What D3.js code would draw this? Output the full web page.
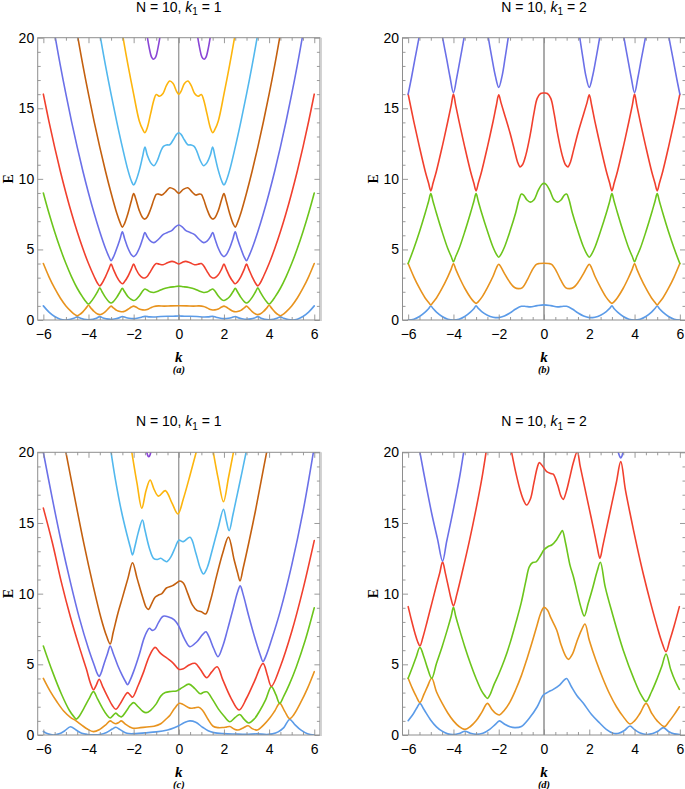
<!DOCTYPE html>
<html><head><meta charset="utf-8">
<script src="https://d3js.org/d3.v7.min.js"></script>
<style>body{margin:0;background:#fff}svg{display:block}</style>
</head><body>
<svg id="chart" width="685" height="789"></svg>
<script>
// ---------- tick labels / categories ----------
const xTickValues = [-6,-4,-2,0,2,4,6];
const yTickValues = [0,5,10,15,20];
const N_value = 10;
const k1Values = [1,2,1,2];
const panelTags = ["(a)","(b)","(c)","(d)"];
const bandColors = ["#5b9be8","#e8931e","#6cc51c","#f1402e","#6b70e8","#c4600f","#52b8ee","#fdb50d","#8a46d6"];

// ---------- panel (a): N=10, k1=1 ----------
const a1 = [[-6,1.0],[-5.75,0.56],[-5.5,0.25],[-5.25,0.06],[-5.05,0.0],[-4.85,0.03],[-4.65,0.12],[-4.5,0.22],[-4.35,0.12],[-4.2,0.05],[-4.0,0.02],[-3.8,0.05],[-3.65,0.12],[-3.5,0.24],[-3.35,0.14],[-3.2,0.08],[-3.0,0.05],[-2.8,0.09],[-2.65,0.15],[-2.5,0.25],[-2.35,0.17],[-2.2,0.12],[-2.0,0.1],[-1.8,0.14],[-1.65,0.2],[-1.5,0.26],[-1.3,0.22],[-1.1,0.21],[-0.8,0.25],[-0.5,0.27],[-0.25,0.27],[0,0.28],[0.25,0.27],[0.5,0.27],[0.8,0.25],[1.1,0.21],[1.3,0.22],[1.5,0.26],[1.65,0.2],[1.8,0.14],[2.0,0.1],[2.2,0.12],[2.35,0.17],[2.5,0.25],[2.65,0.15],[2.8,0.09],[3.0,0.05],[3.2,0.08],[3.35,0.14],[3.5,0.24],[3.65,0.12],[3.8,0.05],[4.0,0.02],[4.2,0.05],[4.35,0.12],[4.5,0.22],[4.65,0.12],[4.85,0.03],[5.05,0.0],[5.25,0.06],[5.5,0.25],[5.75,0.56],[6,1.0]];
const a2 = [[-6,4.0],[-5.75,3.06],[-5.5,2.25],[-5.25,1.56],[-5.0,1.0],[-4.75,0.58],[-4.6,0.38],[-4.5,0.3],[-4.4,0.38],[-4.25,0.58],[-4.1,0.86],[-4.0,1.04],[-3.9,0.86],[-3.75,0.6],[-3.6,0.42],[-3.5,0.38],[-3.4,0.43],[-3.25,0.6],[-3.1,0.84],[-3.0,0.98],[-2.9,0.86],[-2.75,0.68],[-2.6,0.6],[-2.5,0.58],[-2.4,0.62],[-2.25,0.76],[-2.1,0.92],[-2.0,0.98],[-1.9,0.92],[-1.75,0.78],[-1.6,0.72],[-1.5,0.71],[-1.4,0.74],[-1.25,0.86],[-1.1,0.96],[-0.9,1.0],[-0.65,0.98],[-0.35,1.0],[0,1.01],[0.35,1.0],[0.65,0.98],[0.9,1.0],[1.1,0.96],[1.25,0.86],[1.4,0.74],[1.5,0.71],[1.6,0.72],[1.75,0.78],[1.9,0.92],[2.0,0.98],[2.1,0.92],[2.25,0.76],[2.4,0.62],[2.5,0.58],[2.6,0.6],[2.75,0.68],[2.9,0.86],[3.0,0.98],[3.1,0.84],[3.25,0.6],[3.4,0.43],[3.5,0.38],[3.6,0.42],[3.75,0.6],[3.9,0.86],[4.0,1.04],[4.1,0.86],[4.25,0.58],[4.4,0.38],[4.5,0.3],[4.6,0.38],[4.75,0.58],[5.0,1.0],[5.25,1.56],[5.5,2.25],[5.75,3.06],[6,4.0]];
const a3 = [[-6,9.0],[-5.75,7.56],[-5.5,6.25],[-5.25,5.06],[-5.0,4.0],[-4.75,3.06],[-4.5,2.25],[-4.25,1.6],[-4.1,1.27],[-4.0,1.13],[-3.9,1.27],[-3.75,1.6],[-3.6,2.0],[-3.5,2.28],[-3.4,2.0],[-3.25,1.6],[-3.1,1.3],[-3.0,1.2],[-2.9,1.3],[-2.75,1.6],[-2.6,2.0],[-2.5,2.24],[-2.4,2.0],[-2.25,1.65],[-2.1,1.45],[-2.0,1.38],[-1.9,1.45],[-1.75,1.7],[-1.6,2.05],[-1.5,2.2],[-1.4,2.12],[-1.25,1.98],[-1.1,1.95],[-0.9,2.05],[-0.7,2.2],[-0.45,2.3],[-0.2,2.36],[0,2.4],[0.2,2.36],[0.45,2.3],[0.7,2.2],[0.9,2.05],[1.1,1.95],[1.25,1.98],[1.4,2.12],[1.5,2.2],[1.6,2.05],[1.75,1.7],[1.9,1.45],[2.0,1.38],[2.1,1.45],[2.25,1.65],[2.4,2.0],[2.5,2.24],[2.6,2.0],[2.75,1.6],[2.9,1.3],[3.0,1.2],[3.1,1.3],[3.25,1.6],[3.4,2.0],[3.5,2.28],[3.6,2.0],[3.75,1.6],[3.9,1.27],[4.0,1.13],[4.1,1.27],[4.25,1.6],[4.5,2.25],[4.75,3.06],[5.0,4.0],[5.25,5.06],[5.5,6.25],[5.75,7.56],[6,9.0]];
const a4 = [[-6,16.0],[-5.75,14.06],[-5.5,12.25],[-5.25,10.56],[-5.0,9.0],[-4.75,7.56],[-4.5,6.25],[-4.25,5.06],[-4.0,4.0],[-3.75,3.08],[-3.6,2.6],[-3.5,2.42],[-3.4,2.6],[-3.25,3.06],[-3.1,3.6],[-3.0,3.97],[-2.9,3.6],[-2.75,3.08],[-2.6,2.7],[-2.5,2.57],[-2.4,2.72],[-2.25,3.1],[-2.1,3.62],[-2.0,3.97],[-1.9,3.62],[-1.75,3.2],[-1.6,3.0],[-1.5,2.98],[-1.4,3.08],[-1.25,3.45],[-1.1,3.85],[-1.0,4.0],[-0.85,3.95],[-0.7,3.92],[-0.5,4.05],[-0.3,4.15],[-0.15,4.08],[0,3.97],[0.15,4.08],[0.3,4.15],[0.5,4.05],[0.7,3.92],[0.85,3.95],[1.0,4.0],[1.1,3.85],[1.25,3.45],[1.4,3.08],[1.5,2.98],[1.6,3.0],[1.75,3.2],[1.9,3.62],[2.0,3.97],[2.1,3.62],[2.25,3.1],[2.4,2.72],[2.5,2.57],[2.6,2.7],[2.75,3.08],[2.9,3.6],[3.0,3.97],[3.1,3.6],[3.25,3.06],[3.4,2.6],[3.5,2.42],[3.6,2.6],[3.75,3.08],[4.0,4.0],[4.25,5.06],[4.5,6.25],[4.75,7.56],[5.0,9.0],[5.25,10.56],[5.5,12.25],[5.75,14.06],[6,16.0]];
const a5 = [[-5.47,20.0],[-5.25,18.06],[-5.0,16.0],[-4.75,14.06],[-4.5,12.25],[-4.25,10.56],[-4.0,9.0],[-3.75,7.56],[-3.5,6.25],[-3.25,5.08],[-3.1,4.5],[-3.0,4.2],[-2.9,4.45],[-2.75,5.06],[-2.6,5.76],[-2.5,6.25],[-2.4,5.76],[-2.25,5.08],[-2.1,4.62],[-2.0,4.49],[-1.9,4.62],[-1.75,5.08],[-1.6,5.76],[-1.5,6.2],[-1.4,5.9],[-1.25,5.58],[-1.1,5.48],[-0.9,5.72],[-0.7,6.05],[-0.5,6.2],[-0.3,6.35],[-0.15,6.6],[0,6.73],[0.15,6.6],[0.3,6.35],[0.5,6.2],[0.7,6.05],[0.9,5.72],[1.1,5.48],[1.25,5.58],[1.4,5.9],[1.5,6.2],[1.6,5.76],[1.75,5.08],[1.9,4.62],[2.0,4.49],[2.1,4.62],[2.25,5.08],[2.4,5.76],[2.5,6.25],[2.6,5.76],[2.75,5.06],[2.9,4.45],[3.0,4.2],[3.1,4.5],[3.25,5.08],[3.5,6.25],[3.75,7.56],[4.0,9.0],[4.25,10.56],[4.5,12.25],[4.75,14.06],[5.0,16.0],[5.25,18.06],[5.47,20.0]];
const a6 = [[-4.47,20.0],[-4.25,18.06],[-4.0,16.0],[-3.75,14.06],[-3.5,12.25],[-3.25,10.56],[-3.0,9.0],[-2.75,7.58],[-2.6,6.9],[-2.5,6.58],[-2.4,6.85],[-2.25,7.56],[-2.1,8.45],[-2.0,8.95],[-1.9,8.55],[-1.75,7.75],[-1.6,7.25],[-1.5,7.15],[-1.4,7.3],[-1.25,7.85],[-1.1,8.55],[-1.0,8.9],[-0.9,8.92],[-0.75,8.85],[-0.6,9.05],[-0.4,9.37],[-0.2,9.25],[0,8.97],[0.2,9.25],[0.4,9.37],[0.6,9.05],[0.75,8.85],[0.9,8.92],[1.0,8.9],[1.1,8.55],[1.25,7.85],[1.4,7.3],[1.5,7.15],[1.6,7.25],[1.75,7.75],[1.9,8.55],[2.0,8.95],[2.1,8.45],[2.25,7.56],[2.4,6.85],[2.5,6.58],[2.6,6.9],[2.75,7.58],[3.0,9.0],[3.25,10.56],[3.5,12.25],[3.75,14.06],[4.0,16.0],[4.25,18.06],[4.47,20.0]];
const a7 = [[-3.47,20.0],[-3.25,18.06],[-3.0,16.0],[-2.75,14.06],[-2.5,12.25],[-2.25,10.6],[-2.1,9.85],[-2.0,9.56],[-1.9,9.85],[-1.75,10.6],[-1.6,11.6],[-1.5,12.26],[-1.4,11.7],[-1.25,11.15],[-1.1,10.93],[-0.95,11.3],[-0.8,11.95],[-0.68,12.3],[-0.55,12.4],[-0.4,12.42],[-0.25,12.75],[-0.1,13.15],[0,13.27],[0.1,13.15],[0.25,12.75],[0.4,12.42],[0.55,12.4],[0.68,12.3],[0.8,11.95],[0.95,11.3],[1.1,10.93],[1.25,11.15],[1.4,11.7],[1.5,12.26],[1.6,11.6],[1.75,10.6],[1.9,9.85],[2.0,9.56],[2.1,9.85],[2.25,10.6],[2.5,12.25],[2.75,14.06],[3.0,16.0],[3.25,18.06],[3.47,20.0]];
const a8 = [[-2.47,20.0],[-2.25,18.06],[-2.0,16.0],[-1.75,14.1],[-1.6,13.5],[-1.5,13.27],[-1.4,13.6],[-1.25,14.6],[-1.1,15.6],[-1.0,15.98],[-0.85,15.85],[-0.7,16.05],[-0.55,16.6],[-0.4,16.93],[-0.25,16.75],[-0.1,16.2],[0,15.99],[0.1,16.2],[0.25,16.75],[0.4,16.93],[0.55,16.6],[0.7,16.05],[0.85,15.85],[1.0,15.98],[1.1,15.6],[1.25,14.6],[1.4,13.6],[1.5,13.27],[1.6,13.5],[1.75,14.1],[2.0,16.0],[2.25,18.06],[2.47,20.0]];
const a9L = [[-1.39,20.0],[-1.3,19.2],[-1.2,18.6],[-1.12,18.47],[-1.02,18.65],[-0.92,19.3],[-0.84,20.0]];
const a9R = [[0.84,20.0],[0.92,19.3],[1.02,18.65],[1.12,18.47],[1.2,18.6],[1.3,19.2],[1.39,20.0]];

// ---------- panel (b): N=10, k1=2 ----------
const b1 = [[-6,0.0],[-5.75,0.06],[-5.5,0.25],[-5.25,0.56],[-5.1,0.8],[-5.0,0.99],[-4.9,0.81],[-4.75,0.56],[-4.5,0.25],[-4.25,0.06],[-4.0,0.0],[-3.75,0.06],[-3.5,0.25],[-3.25,0.56],[-3.1,0.8],[-3.0,1.0],[-2.9,0.82],[-2.75,0.6],[-2.5,0.34],[-2.25,0.2],[-2.0,0.17],[-1.75,0.28],[-1.5,0.5],[-1.25,0.78],[-1.0,0.97],[-0.8,0.96],[-0.6,0.93],[-0.3,1.02],[0,1.07],[0.3,1.02],[0.6,0.93],[0.8,0.96],[1.0,0.97],[1.25,0.78],[1.5,0.5],[1.75,0.28],[2.0,0.17],[2.25,0.2],[2.5,0.34],[2.75,0.6],[2.9,0.82],[3.0,1.0],[3.1,0.8],[3.25,0.56],[3.5,0.25],[3.75,0.06],[4.0,0.0],[4.25,0.06],[4.5,0.25],[4.75,0.56],[4.9,0.81],[5.0,0.99],[5.1,0.8],[5.25,0.56],[5.5,0.25],[5.75,0.06],[6,0.0]];
const b2 = [[-6,4.0],[-5.75,3.06],[-5.5,2.25],[-5.25,1.56],[-5.1,1.25],[-5.0,1.07],[-4.9,1.25],[-4.75,1.56],[-4.5,2.25],[-4.25,3.06],[-4.1,3.6],[-4.0,4.0],[-3.9,3.6],[-3.75,3.06],[-3.5,2.25],[-3.25,1.6],[-3.1,1.3],[-3.0,1.18],[-2.9,1.3],[-2.75,1.6],[-2.5,2.3],[-2.25,3.1],[-2.1,3.7],[-2.0,3.95],[-1.9,3.75],[-1.75,3.3],[-1.5,2.65],[-1.3,2.3],[-1.13,2.22],[-0.95,2.3],[-0.75,2.8],[-0.55,3.45],[-0.35,3.93],[-0.2,4.0],[0,4.02],[0.2,4.0],[0.35,3.93],[0.55,3.45],[0.75,2.8],[0.95,2.3],[1.13,2.22],[1.3,2.3],[1.5,2.65],[1.75,3.3],[1.9,3.75],[2.0,3.95],[2.1,3.7],[2.25,3.1],[2.5,2.3],[2.75,1.6],[2.9,1.3],[3.0,1.18],[3.1,1.3],[3.25,1.6],[3.5,2.25],[3.75,3.06],[3.9,3.6],[4.0,4.0],[4.1,3.6],[4.25,3.06],[4.5,2.25],[4.75,1.56],[4.9,1.25],[5.0,1.07],[5.1,1.25],[5.25,1.56],[5.5,2.25],[5.75,3.06],[6,4.0]];
const b3 = [[-6,4.0],[-5.75,5.06],[-5.5,6.25],[-5.25,7.56],[-5.1,8.4],[-5.0,8.95],[-4.9,8.4],[-4.75,7.56],[-4.5,6.25],[-4.25,5.06],[-4.1,4.5],[-4.0,4.13],[-3.9,4.5],[-3.75,5.06],[-3.5,6.25],[-3.25,7.56],[-3.1,8.4],[-3.0,8.95],[-2.9,8.4],[-2.75,7.56],[-2.5,6.3],[-2.25,5.15],[-2.1,4.65],[-2.0,4.45],[-1.9,4.65],[-1.75,5.15],[-1.5,6.3],[-1.25,7.6],[-1.1,8.55],[-1.0,8.92],[-0.9,8.85],[-0.75,8.5],[-0.6,8.35],[-0.45,8.5],[-0.25,9.2],[-0.1,9.6],[0,9.68],[0.1,9.6],[0.25,9.2],[0.45,8.5],[0.6,8.35],[0.75,8.5],[0.9,8.85],[1.0,8.92],[1.1,8.55],[1.25,7.6],[1.5,6.3],[1.75,5.15],[1.9,4.65],[2.0,4.45],[2.1,4.65],[2.25,5.15],[2.5,6.3],[2.75,7.56],[2.9,8.4],[3.0,8.95],[3.1,8.4],[3.25,7.56],[3.5,6.25],[3.75,5.06],[3.9,4.5],[4.0,4.13],[4.1,4.5],[4.25,5.06],[4.5,6.25],[4.75,7.56],[4.9,8.4],[5.0,8.95],[5.1,8.4],[5.25,7.56],[5.5,6.25],[5.75,5.06],[6,4.0]];
const b4 = [[-6,16.0],[-5.75,14.06],[-5.5,12.25],[-5.25,10.56],[-5.1,9.7],[-5.0,9.15],[-4.9,9.7],[-4.75,10.56],[-4.5,12.25],[-4.25,14.06],[-4.1,15.2],[-4.0,16.0],[-3.9,15.2],[-3.75,14.06],[-3.5,12.25],[-3.25,10.56],[-3.1,9.7],[-3.0,9.15],[-2.9,9.7],[-2.75,10.56],[-2.5,12.25],[-2.25,14.06],[-2.1,15.25],[-2.0,15.95],[-1.9,15.4],[-1.75,14.6],[-1.5,13.25],[-1.3,12.0],[-1.17,11.2],[-1.06,10.85],[-0.95,11.0],[-0.8,11.7],[-0.6,13.2],[-0.45,14.6],[-0.3,15.7],[-0.15,16.05],[0,16.08],[0.15,16.05],[0.3,15.7],[0.45,14.6],[0.6,13.2],[0.8,11.7],[0.95,11.0],[1.06,10.85],[1.17,11.2],[1.3,12.0],[1.5,13.25],[1.75,14.6],[1.9,15.4],[2.0,15.95],[2.1,15.25],[2.25,14.06],[2.5,12.25],[2.75,10.56],[2.9,9.7],[3.0,9.15],[3.1,9.7],[3.25,10.56],[3.5,12.25],[3.75,14.06],[3.9,15.2],[4.0,16.0],[4.1,15.2],[4.25,14.06],[4.5,12.25],[4.75,10.56],[4.9,9.7],[5.0,9.15],[5.1,9.7],[5.25,10.56],[5.5,12.25],[5.75,14.06],[6,16.0]];
const b5p1 = [[-6,16.0],[-5.85,17.2],[-5.7,18.5],[-5.52,20.0]];
const b5p2 = [[-4.48,20.0],[-4.3,18.5],[-4.15,17.2],[-4.0,16.1],[-3.85,17.2],[-3.7,18.5],[-3.53,20.0]];
const b5p3 = [[-2.46,20.0],[-2.3,18.55],[-2.15,17.3],[-2.0,16.48],[-1.85,17.3],[-1.72,18.55],[-1.58,20.0]];
const b5p4 = [[1.58,20.0],[1.72,18.55],[1.85,17.3],[2.0,16.48],[2.15,17.3],[2.3,18.55],[2.46,20.0]];
const b5p5 = [[3.53,20.0],[3.7,18.5],[3.85,17.2],[4.0,16.1],[4.15,17.2],[4.3,18.5],[4.48,20.0]];
const b5p6 = [[5.52,20.0],[5.7,18.5],[5.85,17.2],[6,16.0]];

// ---------- panel (c): N=10, k1=1 ----------
const c1 = [[-6,0.25],[-5.8,0.08],[-5.55,0.0],[-5.3,0.08],[-5.05,0.3],[-4.8,0.58],[-4.55,0.35],[-4.3,0.12],[-4.05,0.04],[-3.75,0.02],[-3.5,0.04],[-3.2,0.18],[-2.95,0.42],[-2.79,0.55],[-2.6,0.38],[-2.3,0.12],[-1.9,0.1],[-1.5,0.15],[-1.0,0.22],[-0.5,0.36],[-0.2,0.52],[0,0.66],[0.25,0.88],[0.49,1.0],[0.75,0.9],[1.05,0.55],[1.3,0.3],[1.55,0.17],[2.0,0.1],[2.5,0.07],[3.0,0.05],[3.45,0.08],[3.9,0.04],[4.15,0.08],[4.4,0.22],[4.65,0.52],[4.91,1.1],[5.15,0.72],[5.4,0.36],[5.7,0.09],[6,0.0]];
const c2 = [[-6,4.0],[-5.7,3.1],[-5.4,2.35],[-5.1,1.7],[-4.8,1.25],[-4.55,1.0],[-4.3,0.7],[-4.05,0.42],[-3.78,0.24],[-3.5,0.4],[-3.25,0.7],[-3.04,1.0],[-2.92,0.88],[-2.79,0.8],[-2.66,0.88],[-2.55,1.0],[-2.35,0.75],[-2.15,0.55],[-2.0,0.47],[-1.7,0.52],[-1.42,0.57],[-1.1,0.62],[-0.8,0.8],[-0.55,1.15],[-0.38,1.42],[-0.2,1.85],[0.03,2.24],[0.2,2.15],[0.49,1.9],[0.7,1.92],[0.88,1.96],[1.05,1.75],[1.3,1.1],[1.52,0.62],[1.75,0.52],[1.96,0.53],[2.1,0.56],[2.26,0.6],[2.45,0.42],[2.62,0.35],[2.85,0.5],[3.07,0.65],[3.25,0.45],[3.47,0.35],[3.75,0.7],[4.03,1.2],[4.25,1.7],[4.47,2.24],[4.7,1.65],[4.91,1.15],[5.1,1.45],[5.4,2.3],[5.7,3.3],[6,4.48]];
const c3 = [[-6,6.3],[-5.6,4.5],[-5.2,2.9],[-4.85,1.75],[-4.65,1.3],[-4.54,1.12],[-4.4,1.35],[-4.2,1.9],[-3.98,2.55],[-3.78,3.07],[-3.6,2.55],[-3.4,1.95],[-3.2,1.45],[-3.04,1.2],[-2.9,1.4],[-2.79,1.55],[-2.67,1.38],[-2.55,1.28],[-2.3,1.75],[-2.15,2.1],[-2.0,2.29],[-1.8,2.0],[-1.6,1.68],[-1.45,1.58],[-1.25,1.75],[-1.0,2.2],[-0.8,2.75],[-0.6,3.0],[-0.35,3.08],[-0.1,3.12],[0.15,3.35],[0.45,3.6],[0.7,3.3],[0.95,2.92],[1.1,3.02],[1.25,3.05],[1.5,2.5],[1.75,1.85],[2.0,1.35],[2.26,0.94],[2.5,1.25],[2.7,1.45],[2.9,1.1],[3.1,0.85],[3.35,1.15],[3.6,1.75],[3.85,2.5],[4.1,3.42],[4.3,2.85],[4.47,2.24],[4.65,2.75],[4.9,3.6],[5.2,4.8],[5.6,6.7],[6,9.0]];
const c4 = [[-6,16.05],[-5.6,13.6],[-5.2,10.8],[-4.8,8.35],[-4.4,6.2],[-4.1,4.7],[-3.9,3.6],[-3.78,3.2],[-3.65,3.55],[-3.53,3.94],[-3.35,3.35],[-3.15,2.7],[-2.95,2.1],[-2.79,1.82],[-2.6,2.2],[-2.4,2.75],[-2.27,3.0],[-2.15,2.82],[-2.05,2.67],[-1.8,3.5],[-1.55,4.5],[-1.3,5.6],[-1.05,6.2],[-0.85,5.85],[-0.68,5.62],[-0.45,5.35],[-0.24,5.07],[0,4.65],[0.2,4.68],[0.45,4.95],[0.72,5.07],[0.95,4.65],[1.24,4.05],[1.45,4.45],[1.7,4.83],[1.95,3.9],[2.3,2.65],[2.67,1.77],[3.0,2.6],[3.35,3.8],[3.73,5.07],[3.92,4.25],[4.1,3.45],[4.5,4.85],[5.0,7.3],[5.5,10.3],[6,13.75]];
const c5 = [[-6,20.0],[-5.6,16.7],[-5.2,13.6],[-4.8,10.8],[-4.4,8.25],[-4.0,6.1],[-3.75,4.95],[-3.6,4.3],[-3.53,4.15],[-3.45,4.35],[-3.3,5.1],[-3.15,5.8],[-3.04,6.3],[-2.9,5.75],[-2.7,4.9],[-2.5,4.2],[-2.35,3.75],[-2.27,3.56],[-2.15,3.9],[-2.0,4.5],[-1.75,5.7],[-1.55,6.8],[-1.42,7.3],[-1.3,7.55],[-1.18,7.4],[-1.05,7.5],[-0.9,7.95],[-0.69,8.4],[-0.45,8.35],[-0.2,8.15],[0,7.7],[0.25,6.8],[0.49,6.25],[0.8,6.6],[1.05,7.1],[1.2,7.3],[1.35,6.9],[1.55,6.1],[1.74,5.54],[1.95,6.3],[2.15,7.4],[2.4,8.9],[2.6,10.1],[2.72,10.55],[2.85,9.95],[3.1,8.4],[3.4,6.7],[3.6,5.7],[3.73,5.2],[3.85,5.55],[4.1,6.7],[4.5,8.8],[5.0,12.0],[5.5,15.8],[5.96,20.0]];
const c6 = [[-5.0,20.0],[-4.6,16.7],[-4.2,13.5],[-3.8,10.6],[-3.45,8.3],[-3.2,7.0],[-3.04,6.44],[-2.9,7.3],[-2.7,8.6],[-2.5,9.7],[-2.25,11.1],[-2.05,12.19],[-1.85,11.1],[-1.6,9.75],[-1.45,9.05],[-1.34,8.89],[-1.2,9.3],[-1.05,9.75],[-0.9,9.9],[-0.75,10.0],[-0.55,10.4],[-0.3,10.55],[-0.1,10.75],[0.05,10.9],[0.2,10.75],[0.4,10.0],[0.6,9.2],[0.8,8.82],[1.0,8.72],[1.19,8.56],[1.4,9.5],[1.65,11.1],[1.95,12.9],[2.2,14.0],[2.45,12.4],[2.6,11.5],[2.71,10.9],[2.85,11.8],[3.1,13.6],[3.4,15.9],[3.65,18.0],[3.89,20.0]];
const c7 = [[-3.0,20.0],[-2.8,18.0],[-2.55,15.9],[-2.3,14.2],[-2.15,13.3],[-2.05,12.74],[-1.95,13.3],[-1.8,14.3],[-1.61,15.21],[-1.5,14.5],[-1.3,13.2],[-1.12,12.5],[-0.95,12.42],[-0.8,12.5],[-0.65,12.35],[-0.53,12.26],[-0.35,12.6],[-0.15,13.3],[0,13.78],[0.2,13.68],[0.5,13.99],[0.75,12.9],[0.95,11.8],[1.09,11.39],[1.25,11.8],[1.5,13.2],[1.75,14.7],[1.98,15.97],[2.1,15.2],[2.23,14.46],[2.4,15.6],[2.6,17.1],[2.8,18.6],[2.98,20.0]];
const c8p1 = [[-2.08,20.0],[-1.85,17.8],[-1.64,16.04],[-1.45,17.3],[-1.27,18.04],[-1.1,17.4],[-0.9,16.9],[-0.6,17.29],[-0.3,16.4],[-0.04,15.64],[0.2,16.7],[0.5,18.4],[0.77,20.0]];
const c8p2 = [[1.53,20.0],[1.75,18.1],[1.98,16.5],[2.2,18.2],[2.42,20.0]];
const c9 = [[-1.42,20.0],[-1.37,19.75],[-1.33,19.68],[-1.29,19.75],[-1.24,20.0]];

// ---------- panel (d): N=10, k1=2 ----------
const dB1 = [[-6,1.01],[-5.75,1.56],[-5.6,1.96],[-5.48,2.24],[-5.3,1.8],[-5.0,1.05],[-4.75,0.58],[-4.5,0.27],[-4.25,0.08],[-4.0,0.03],[-3.75,0.1],[-3.49,0.27],[-3.25,0.12],[-2.97,0.05],[-2.7,0.12],[-2.4,0.4],[-2.15,0.75],[-1.97,1.0],[-1.75,0.78],[-1.5,0.58],[-1.28,0.52],[-1.0,0.6],[-0.62,1.25],[-0.3,2.0],[-0.03,2.83],[0.2,3.05],[0.41,3.23],[0.7,3.55],[0.9,3.9],[1.0,4.0],[1.2,3.45],[1.45,2.8],[1.74,2.24],[2.1,1.45],[2.47,0.83],[2.75,0.4],[3.06,0.12],[3.3,0.12],[3.55,0.32],[3.8,0.64],[4.0,0.38],[4.25,0.14],[4.54,0.04],[4.8,0.1],[5.05,0.28],[5.27,0.52],[5.5,0.25],[5.75,0.08],[6,0.04]];
const dB2 = [[-6,4.01],[-5.8,3.24],[-5.65,2.75],[-5.48,2.3],[-5.3,2.89],[-5.15,3.42],[-4.96,4.01],[-4.75,3.06],[-4.5,2.25],[-4.25,1.56],[-4.0,1.0],[-3.75,0.6],[-3.49,0.4],[-3.25,0.6],[-3.0,1.0],[-2.75,1.6],[-2.5,2.24],[-2.3,1.8],[-2.15,1.55],[-1.97,1.42],[-1.75,1.75],[-1.5,2.35],[-1.25,3.2],[-1.0,4.2],[-0.75,5.4],[-0.5,6.7],[-0.3,7.8],[-0.15,8.6],[0,9.03],[0.15,8.85],[0.3,8.3],[0.56,7.43],[0.75,6.4],[0.95,5.6],[1.08,5.35],[1.25,5.7],[1.45,6.6],[1.65,7.4],[1.81,7.85],[2.0,6.7],[2.3,5.25],[2.6,4.0],[2.9,2.9],[3.2,2.0],[3.5,1.3],[3.8,0.78],[4.0,1.0],[4.25,1.56],[4.51,2.24],[4.75,1.56],[5.0,1.0],[5.32,0.59],[5.5,0.9],[5.75,1.44],[5.98,2.0]];
const dB3 = [[-6,4.01],[-5.8,4.85],[-5.65,5.5],[-5.48,6.2],[-5.3,5.5],[-5.15,4.75],[-4.96,4.01],[-4.75,5.06],[-4.5,6.25],[-4.25,7.56],[-4.1,8.4],[-4.0,9.03],[-3.9,8.4],[-3.75,7.56],[-3.5,6.25],[-3.25,5.06],[-3.0,4.0],[-2.75,3.1],[-2.6,2.75],[-2.5,2.59],[-2.4,2.8],[-2.2,3.6],[-2.0,4.3],[-1.75,5.3],[-1.5,6.5],[-1.25,7.9],[-1.0,9.4],[-0.8,10.9],[-0.65,11.9],[-0.5,12.2],[-0.35,12.25],[-0.15,12.7],[0,13.1],[0.2,13.35],[0.34,13.44],[0.55,13.8],[0.7,14.2],[0.81,14.46],[0.95,13.6],[1.15,12.0],[1.3,11.2],[1.45,10.2],[1.62,9.1],[1.78,8.42],[1.95,9.3],[2.15,10.4],[2.35,11.6],[2.49,12.22],[2.7,10.5],[3.0,8.7],[3.5,6.0],[4.0,3.85],[4.3,2.8],[4.51,2.36],[4.75,3.06],[5.0,4.0],[5.2,4.84],[5.39,5.73],[5.6,4.62],[5.8,3.8],[5.98,3.23]];
const dB4p1 = [[-6,9.08],[-5.85,8.1],[-5.7,7.2],[-5.58,6.6],[-5.48,6.3],[-5.35,6.9],[-5.15,8.1],[-4.95,9.35],[-4.75,10.6],[-4.6,11.5],[-4.48,12.26],[-4.35,11.4],[-4.2,10.3],[-4.1,9.6],[-4.0,9.13],[-3.85,9.95],[-3.6,11.6],[-3.3,13.7],[-3.0,16.0],[-2.75,18.1],[-2.56,20.0]];
const dB4p2 = [[-1.43,20.0],[-1.25,18.6],[-1.05,17.3],[-0.9,16.6],[-0.77,16.27],[-0.6,16.7],[-0.45,17.8],[-0.3,18.9],[-0.21,19.27],[-0.05,19.0],[0.12,18.63],[0.3,18.5],[0.41,18.45],[0.6,17.7],[0.75,16.9],[0.85,16.67],[0.98,17.2],[1.15,18.3],[1.3,19.3],[1.47,20.05],[1.6,19.0],[1.8,17.5],[2.0,16.0],[2.2,14.5],[2.35,13.3],[2.47,12.5],[2.6,13.4],[2.8,14.9],[3.0,16.4],[3.2,17.9],[3.39,19.34],[3.6,17.3],[3.85,15.3],[4.1,13.4],[4.4,11.3],[4.7,9.4],[5.0,7.65],[5.2,6.6],[5.39,5.9],[5.55,6.66],[5.75,7.73],[5.98,9.08]];
const dB5p1 = [[-5.48,20.0],[-5.2,17.6],[-4.95,15.6],[-4.7,13.84],[-4.48,12.3],[-4.3,13.69],[-4.1,15.2],[-3.85,17.2],[-3.7,18.5],[-3.55,20.0]];
const dB5p2 = [[3.28,20.0],[3.34,19.72],[3.39,19.6],[3.44,19.72],[3.49,20.0]];

// ---------- assemble (series, band colour index) ----------
const panelSeries = [
  [[a1,0],[a2,1],[a3,2],[a4,3],[a5,4],[a6,5],[a7,6],[a8,7],[a9L,8],[a9R,8]],
  [[b1,0],[b2,1],[b3,2],[b4,3],[b5p1,4],[b5p2,4],[b5p3,4],[b5p4,4],[b5p5,4],[b5p6,4]],
  [[c1,0],[c2,1],[c3,2],[c4,3],[c5,4],[c6,5],[c7,6],[c8p1,7],[c8p2,7],[c9,8]],
  [[dB1,0],[dB2,1],[dB3,2],[dB4p1,3],[dB4p2,3],[dB5p1,4],[dB5p2,4]]
];

const layout = [
  {x0:37.7, x1:319.9, y0:37.7,  y1:320, thinAxis:true},
  {x0:402.5,x1:685.5, y0:37.7,  y1:320, thinAxis:false},
  {x0:37.7, x1:319.9, y0:452.3, y1:735, thinAxis:true},
  {x0:402.5,x1:685.5, y0:452.3, y1:735, thinAxis:false}
];

const svg = d3.select("#chart");
svg.append("rect").attr("width",685).attr("height",789).attr("fill","#fff");
const frameColor = "#8e8e8e";
const sansFont = "'Liberation Sans', Arial, Helvetica, sans-serif";
const serifFont = "'Liberation Serif', 'Times New Roman', serif";

layout.forEach((L, i) => {
  const x = d3.scaleLinear().domain([-6.25, 6.25]).range([L.x0, L.x1]);
  const y = d3.scaleLinear().domain([0, 20]).range([L.y1, L.y0]);
  const g = svg.append("g");

  const clipId = "clip" + i;
  svg.append("clipPath").attr("id", clipId).append("rect")
    .attr("x", L.x0).attr("y", L.y0).attr("width", L.x1 - L.x0).attr("height", L.y1 - L.y0);

  g.append("line").attr("x1", x(0)).attr("x2", x(0)).attr("y1", y(0)).attr("y2", y(20))
    .attr("stroke", L.thinAxis ? "#777" : "#ababab").attr("stroke-width", L.thinAxis ? 1 : 2);

  const line = d3.line().x(d => x(d[0])).y(d => y(d[1])).curve(d3.curveCatmullRom.alpha(0.5));
  const curves = g.append("g").attr("clip-path", `url(#${clipId})`);
  panelSeries[i].forEach(([data, ci]) => {
    curves.append("path").attr("d", line(data)).attr("fill", "none")
      .attr("stroke", bandColors[ci]).attr("stroke-width", 1.6)
      .attr("stroke-linejoin", "round").attr("stroke-linecap", "round");
  });

  const minorX = d3.range(-6, 6.01, 0.5).filter(v => !xTickValues.includes(v));
  const minorY = d3.range(0, 20.01, 1).filter(v => !yTickValues.includes(v));
  const styleAxis = sel => {
    sel.select(".domain").remove();
    sel.selectAll(".tick line").attr("stroke", frameColor).attr("stroke-width", 0.9);
    sel.selectAll(".tick text").attr("fill", "#000").style("font-family", sansFont).style("font-size", "14px");
  };
  g.append("g").attr("transform", `translate(0,${L.y1})`)
    .call(d3.axisBottom(x).tickValues(xTickValues).tickSize(-5.5).tickPadding(9)).call(styleAxis);
  g.append("g").attr("transform", `translate(0,${L.y1})`)
    .call(d3.axisBottom(x).tickValues(minorX).tickSize(-3).tickFormat("")).call(styleAxis);
  g.append("g").attr("transform", `translate(0,${L.y0})`)
    .call(d3.axisTop(x).tickValues(xTickValues).tickSize(-5.5).tickFormat("")).call(styleAxis);
  g.append("g").attr("transform", `translate(0,${L.y0})`)
    .call(d3.axisTop(x).tickValues(minorX).tickSize(-3).tickFormat("")).call(styleAxis);
  g.append("g").attr("transform", `translate(${L.x0},0)`)
    .call(d3.axisLeft(y).tickValues(yTickValues).tickSize(-5.5).tickPadding(3.5)).call(styleAxis);
  g.append("g").attr("transform", `translate(${L.x0},0)`)
    .call(d3.axisLeft(y).tickValues(minorY).tickSize(-3).tickFormat("")).call(styleAxis);
  g.append("g").attr("transform", `translate(${L.x1},0)`)
    .call(d3.axisRight(y).tickValues(yTickValues).tickSize(-5.5).tickFormat("")).call(styleAxis);
  g.append("g").attr("transform", `translate(${L.x1},0)`)
    .call(d3.axisRight(y).tickValues(minorY).tickSize(-3).tickFormat("")).call(styleAxis);

  g.append("rect").attr("x", L.x0).attr("y", L.y0).attr("width", L.x1 - L.x0).attr("height", L.y1 - L.y0)
    .attr("fill", "none").attr("stroke", frameColor).attr("stroke-width", 1);
  g.append("line").attr("x1", L.x1 + 1).attr("x2", L.x1 + 1).attr("y1", L.y0).attr("y2", L.y1 + 1)
    .attr("stroke", "#cfcfcf").attr("stroke-width", 2);

  const t = g.append("text").attr("x", x(0)).attr("y", L.y0 - 26).attr("text-anchor", "middle")
    .style("font-family", sansFont).style("font-size", "14px").attr("fill", "#000");
  t.append("tspan").text(`N = ${N_value}, `);
  t.append("tspan").attr("font-style", "italic").text("k");
  t.append("tspan").attr("font-size", "10px").attr("dy", 3.5).text("1");
  t.append("tspan").attr("dy", -3.5).text(` = ${k1Values[i]}`);

  g.append("text").attr("transform", `translate(${L.x0 - 29},${(L.y0 + L.y1) / 2}) rotate(-90)`)
    .attr("text-anchor", "middle").attr("dominant-baseline", "central")
    .style("font-family", serifFont).style("font-weight", "bold").style("font-size", "14px").text("E");

  g.append("text").attr("x", x(0)).attr("y", L.y1 + 42).attr("text-anchor", "middle")
    .style("font-family", serifFont).style("font-weight", "bold").style("font-style", "italic")
    .style("font-size", "15px").text("k");
  g.append("text").attr("x", x(0)).attr("y", L.y1 + 53).attr("text-anchor", "middle")
    .style("font-family", serifFont).style("font-weight", "bold").style("font-style", "italic")
    .style("font-size", "10.5px").text(panelTags[i]);
});
</script>
</body></html>
